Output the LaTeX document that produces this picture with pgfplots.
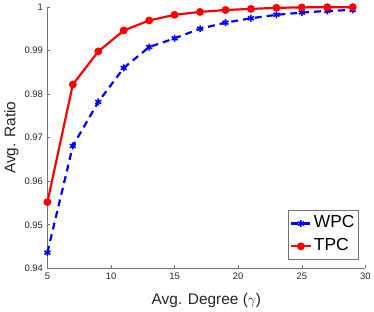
\documentclass[border=0pt]{standalone}
\usepackage{pgfplots}
\pgfplotsset{compat=1.18}
\usepackage{fontspec}
\setmainfont{Liberation Sans}
\usetikzlibrary{calc}
\begin{document}
\begin{tikzpicture}
\begin{axis}[
  name=ax,
  scale only axis,
  width=320pt, height=263pt,
  xmin=5, xmax=30, ymin=0.94, ymax=1,
  axis x line*=bottom, axis y line*=left,
  axis line style={-, black!55, line width=0.6pt},
  xtick={5,10,15,20,25,30},
  ytick={0.94,0.95,0.96,0.97,0.98,0.99,1},
  yticklabels={0.94,0.95,0.96,0.97,0.98,0.99,1},
  tick align=inside,
  major tick length=3pt,
  tick style={black!55, line width=0.6pt},
  /pgf/number format/assume math mode=true,
  ticklabel style={font=\fontsize{9.5}{11}\selectfont, text=black!85},
  xticklabel style={yshift=-1pt},
  yticklabel style={xshift=-1pt},
  xlabel={Avg. Degree ($\gamma$)},
  ylabel={Avg. Ratio},
  label style={font=\fontsize{15.5}{18}\selectfont, text=black!85},
  xlabel style={at={(axis description cs:0.5,0)}, anchor=base, yshift=-36.5pt},
  ylabel shift=-1pt,
  legend style={at={(0.979,0.224)}, anchor=north east, draw=black!55, line width=0.6pt,
    font=\fontsize{17.5}{20}\selectfont, inner xsep=2pt, inner ysep=2pt, row sep=0pt,
    nodes={inner xsep=2pt, inner ysep=3pt, text height=13pt, text depth=4pt},
    legend cell align=left},
  legend image code/.code={
    \draw[mark repeat=2,mark phase=2] plot coordinates {(0pt,0pt) (10pt,0pt) (20pt,0pt)};},
]
\addplot[blue, line width=2.2pt, dash pattern=on 7pt off 5pt, mark=asterisk, mark size=3.5pt,
  mark options={solid, line width=1.6pt}] coordinates {
(5,0.9436) (7,0.9681) (9,0.9782) (11,0.9860) (13,0.9908) (15,0.9928) (17,0.9950)
(19,0.9964) (21,0.9974) (23,0.9982) (25,0.9987) (27,0.9991) (29,0.9993)};
\addlegendentry{WPC}
\addplot[red, line width=2.2pt, mark=*, mark size=2.8pt, mark options={solid, fill=red}] coordinates {
(5,0.9552) (7,0.9822) (9,0.9898) (11,0.9946) (13,0.9969) (15,0.9982) (17,0.99886)
(19,0.9993) (21,0.99955) (23,0.9998) (25,0.9999) (27,0.99995) (29,0.99995)};
\addlegendentry{TPC}
\end{axis}
\useasboundingbox ($(ax.south west)+(-47.7pt,-41pt)$) rectangle ($(ax.north east)+(6.3pt,7pt)$);
\end{tikzpicture}
\end{document}
